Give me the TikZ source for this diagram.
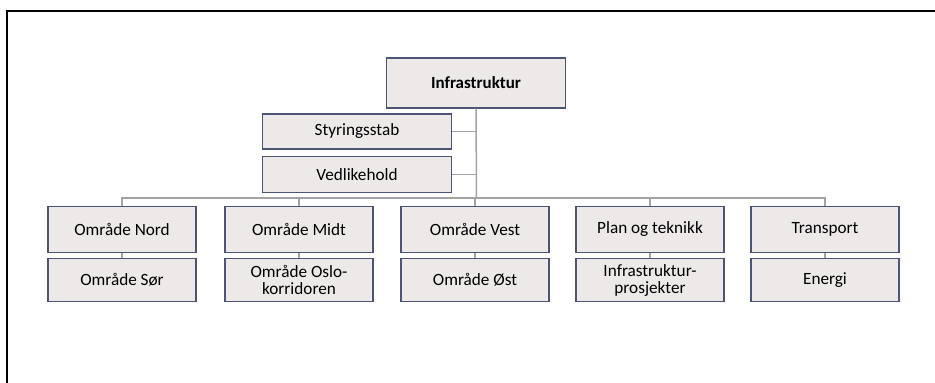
\documentclass[tikz,border=0pt]{standalone}
\usepackage{fontspec}
\setmainfont{Carlito}
\definecolor{boksfyll}{HTML}{EDE9E9}
\definecolor{boksramme}{HTML}{4D5576}
\definecolor{linjegraa}{HTML}{A3A3A3}
\tikzset{
  enhet/.style={draw=boksramme, fill=boksfyll, line width=1.2pt,
    minimum width=148pt, inner sep=0pt, align=center,
    font=\fontsize{17.2}{17}\selectfont},
  linje/.style={draw=linjegraa, line width=1.5pt}
}
\begin{document}
\begin{tikzpicture}[x=1pt, y=-1pt]
    \useasboundingbox (0,0) rectangle (935,383);
    % Ramme
    \draw[line width=2pt, line cap=rect] (6.5,383) -- (6.5,10.5) -- (935,10.5);

    % Toppnivå
    \node[enhet, minimum width=179pt, minimum height=50pt,
      font=\fontsize{17}{17}\selectfont\bfseries] (infra) at (476,83) {Infrastruktur};
    \node[enhet, minimum width=189pt, minimum height=35pt] (styr) at (357,131.5) {Styringsstab};
    \node[enhet, minimum width=189pt, minimum height=36pt] (vedl) at (357,174.5) {Vedlikehold};
    \coordinate (buss) at (476.5,198);

    % Stammen og staber
    \draw[linje] (infra.south) -- (buss);
    \draw[linje] (styr.east) -- (styr.east -| infra.south);
    \draw[linje] (vedl.east) -- (vedl.east -| infra.south);

    % Områder og enheter
    \foreach \navn/\x/\topp/\bunn in {
        nord/122/{Område Nord}/{Område Sør},
        midt/299/{Område Midt}/{Område Oslo-\\korridoren},
        vest/475/{Område Vest}/{Område Øst},
        plan/650/{Plan og teknikk}/{Infrastruktur-\\prosjekter},
        trans/825/{Transport}/{Energi}} {
      \node[enhet, minimum height=45.5pt] (\navn1) at (\x,229.5) {\topp};
      \node[enhet, minimum height=43.5pt] (\navn2) at (\x,280) {\bunn};
      \draw[linje] (\navn1) -- (\navn2);
      \draw[linje] (buss) -| (\navn1.north);
    }
  \end{tikzpicture}
\end{document}
